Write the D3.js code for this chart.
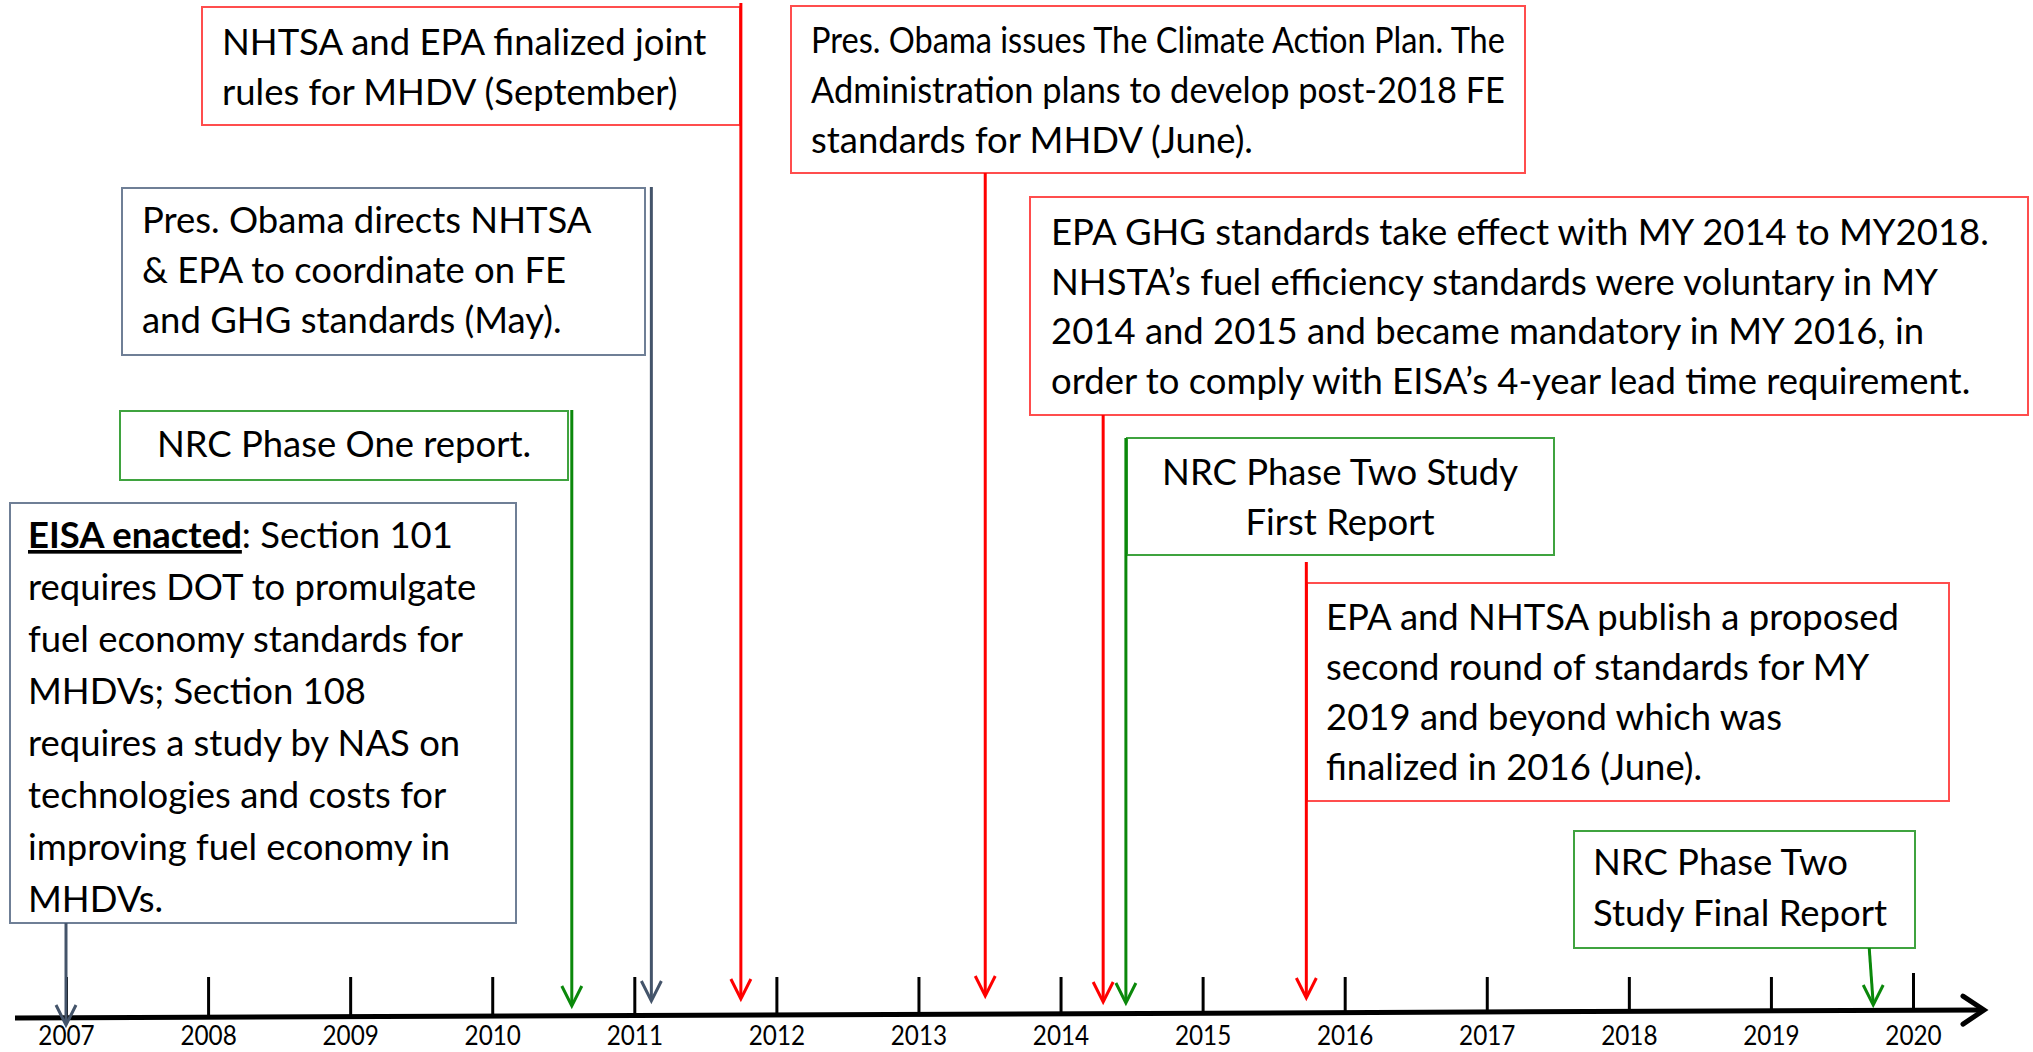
<!DOCTYPE html>
<html>
<head>
<meta charset="utf-8">
<script src="https://cdn.jsdelivr.net/npm/d3@7"></script>
<style>
  body { margin: 0; background: #ffffff; }
  svg { display: block; }
</style>
</head>
<body>
<svg id="chart" width="2033" height="1052"></svg>
<script>
// ---------------- DATA ----------------
const tickYears = [2007, 2008, 2009, 2010, 2011, 2012, 2013, 2014, 2015, 2016, 2017, 2018, 2019, 2020];

const eventNames = [
  "EISA enacted",
  "NRC Phase One report",
  "Obama directs NHTSA & EPA",
  "NHTSA/EPA joint rules finalized",
  "Climate Action Plan",
  "EPA GHG standards take effect",
  "NRC Phase Two first report",
  "Second round proposed",
  "NRC Phase Two final report"
];

// position of each event on the time axis (decimal years)
const eventDates = [2007.0, 2010.56, 2011.12, 2011.75, 2013.47, 2014.30, 2014.46, 2015.73, 2019.72];

// kind of event (drives the colour)
const eventKinds = ["policy", "nrc", "policy", "rule", "rule", "rule", "nrc", "rule", "nrc"];

const eventTexts = [
  ["EISA enacted|: Section 101", "requires DOT to promulgate", "fuel economy standards for", "MHDVs; Section 108",
   "requires a study by NAS on", "technologies and costs for", "improving fuel economy in", "MHDVs."],
  ["NRC Phase One report."],
  ["Pres. Obama directs NHTSA", "& EPA to coordinate on FE", "and GHG standards (May)."],
  ["NHTSA and EPA finalized joint", "rules for MHDV (September)"],
  ["Pres. Obama issues The Climate Action Plan. The", "Administration plans to develop post-2018 FE", "standards for MHDV (June)."],
  ["EPA GHG standards take effect with MY 2014 to MY2018.", "NHSTA\u2019s fuel efficiency standards were voluntary in MY",
   "2014 and 2015 and became mandatory in MY 2016, in", "order to comply with EISA\u2019s 4-year lead time requirement."],
  ["NRC Phase Two Study", "First Report"],
  ["EPA and NHTSA publish a proposed", "second round of standards for MY", "2019 and beyond which was", "finalized in 2016 (June)."],
  ["NRC Phase Two", "Study Final Report"]
];

// ---------------- STYLES / LAYOUT ----------------
const lineColor = { policy: "#44546a", nrc: "#0b880b", rule: "#ff0000" };
const boxColor  = { policy: "#6f7f96", nrc: "#3fa33f", rule: "#ff4d4d" };

const layout = [
  { x0: 10,   y0: 503, x1: 516,  y1: 923, tx: 28,   b1: 548, dy: 52,   anchor: "start",  top: 923, tip: 1025 },
  { x0: 120,  y0: 411, x1: 568,  y1: 480, tx: 344,  b1: 457, dy: 50,   anchor: "middle", top: 410, tip: 1006 },
  { x0: 122,  y0: 188, x1: 645,  y1: 355, tx: 142,  b1: 233, dy: 50,   anchor: "start",  top: 187, tip: 1001 },
  { x0: 202,  y0: 7,   x1: 740,  y1: 125, tx: 222,  b1: 55,  dy: 50,   anchor: "start",  top: 3,   tip: 999 },
  { x0: 791,  y0: 6,   x1: 1525, y1: 173, tx: 811,  b1: 53,  dy: 50,   anchor: "start",  top: 173, tip: 996 },
  { x0: 1030, y0: 197, x1: 2028, y1: 415, tx: 1051, b1: 245, dy: 49.5, anchor: "start",  top: 415, tip: 1002 },
  { x0: 1127, y0: 438, x1: 1554, y1: 555, tx: 1340, b1: 485, dy: 50,   anchor: "middle", top: 438, tip: 1003 },
  { x0: 1307, y0: 583, x1: 1949, y1: 801, tx: 1326, b1: 630, dy: 50,   anchor: "start",  top: 562, tip: 998 },
  { x0: 1574, y0: 831, x1: 1915, y1: 948, tx: 1593, b1: 875, dy: 51,   anchor: "start",  top: 948, tip: 1005, topDx: -4 }
];

const FONT = "Lato, 'Open Sans', 'DejaVu Sans', sans-serif";

// ---------------- DRAW ----------------
const svg = d3.select("#chart");
svg.append("rect").attr("width", 2033).attr("height", 1052).attr("fill", "#ffffff");

const x = d3.scaleLinear().domain([2007, 2020]).range([66, 1913]);

function measure(str, size, weight) {
  const t = svg.append("text").attr("font-family", FONT).attr("font-size", size)
    .attr("font-weight", weight || "normal").text(str);
  const w = t.node().getComputedTextLength();
  t.remove();
  return w;
}
const boxFont = 40 * 356 / measure("NRC Phase Two Study", 40);
const yearFont = 27;

// the hand-drawn axis line is slightly tilted: y at a given pixel x
const AXIS_Y = 1014;
const axisAt = px => 1018 - 8 * (px - 15) / 1970;

svg.append("line")
  .attr("x1", 15).attr("y1", axisAt(15))
  .attr("x2", 1983).attr("y2", axisAt(1983))
  .attr("stroke", "#000").attr("stroke-width", 5);
svg.append("path")
  .attr("d", `M1963,${axisAt(1963) - 14} L1984,${axisAt(1984)} L1963,${axisAt(1963) + 14}`)
  .attr("fill", "none").attr("stroke", "#000").attr("stroke-width", 5)
  .attr("stroke-linejoin", "miter").attr("stroke-linecap", "round");

const axis = d3.axisBottom(x)
  .tickValues(tickYears)
  .tickFormat(d3.format("d"))
  .tickSizeInner(-37)
  .tickSizeOuter(0)
  .tickPadding(12);

const ax = svg.append("g").attr("transform", `translate(0,${AXIS_Y})`).call(axis);
ax.select(".domain").remove();
ax.selectAll(".tick line").attr("stroke", "#000").attr("stroke-width", 3)
  .attr("y1", d => axisAt(x(d)) - AXIS_Y)
  .attr("y2", d => d === 2020 ? -41 : -37);
ax.selectAll(".tick text")
  .attr("fill", "#000")
  .attr("font-family", FONT)
  .attr("font-size", yearFont)
  .attr("transform", "scale(0.9,1)");

// boxes
const boxes = svg.append("g");
layout.forEach((L, i) => {
  const kind = eventKinds[i];
  boxes.append("rect")
    .attr("x", L.x0).attr("y", L.y0)
    .attr("width", L.x1 - L.x0).attr("height", L.y1 - L.y0)
    .attr("fill", "#fff")
    .attr("stroke", boxColor[kind]).attr("stroke-width", 2);

  const t = boxes.append("text")
    .attr("font-family", FONT)
    .attr("font-size", boxFont)
    .attr("fill", "#000")
    .attr("text-anchor", L.anchor);

  const pad = L.anchor === "start" ? (L.tx - L.x0) : 20;
  const maxW = (L.x1 - L.x0) - 2 * pad;

  eventTexts[i].forEach((line, j) => {
    const yy = L.b1 + j * L.dy;
    let ts;
    if (line.indexOf("|") >= 0) {
      const parts = line.split("|");
      ts = t.append("tspan").attr("x", L.tx).attr("y", yy);
      ts.append("tspan").attr("font-weight", "bold")
        .style("text-decoration", "underline").text(parts[0]);
      ts.append("tspan").text(parts[1]);
    } else {
      ts = t.append("tspan").attr("x", L.tx).attr("y", yy).text(line);
    }
    const w = measure(line.replace("|", ""), boxFont);
    if (w > maxW) {
      ts.attr("textLength", maxW).attr("lengthAdjust", "spacingAndGlyphs");
    }
  });
});

// event arrows
const arrows = svg.append("g");
eventDates.forEach((d, i) => {
  const L = layout[i];
  const col = lineColor[eventKinds[i]];
  const xx = x(d);
  const xTop = xx + (L.topDx || 0);
  arrows.append("line")
    .attr("x1", xTop).attr("y1", L.top)
    .attr("x2", xx).attr("y2", L.tip - 1)
    .attr("stroke", col).attr("stroke-width", 3);
  arrows.append("path")
    .attr("d", `M${xx - 10},${L.tip - 20} L${xx},${L.tip} L${xx + 10},${L.tip - 20}`)
    .attr("fill", "none").attr("stroke", col).attr("stroke-width", 3)
    .attr("stroke-linejoin", "miter");
});
</script>
</body>
</html>
